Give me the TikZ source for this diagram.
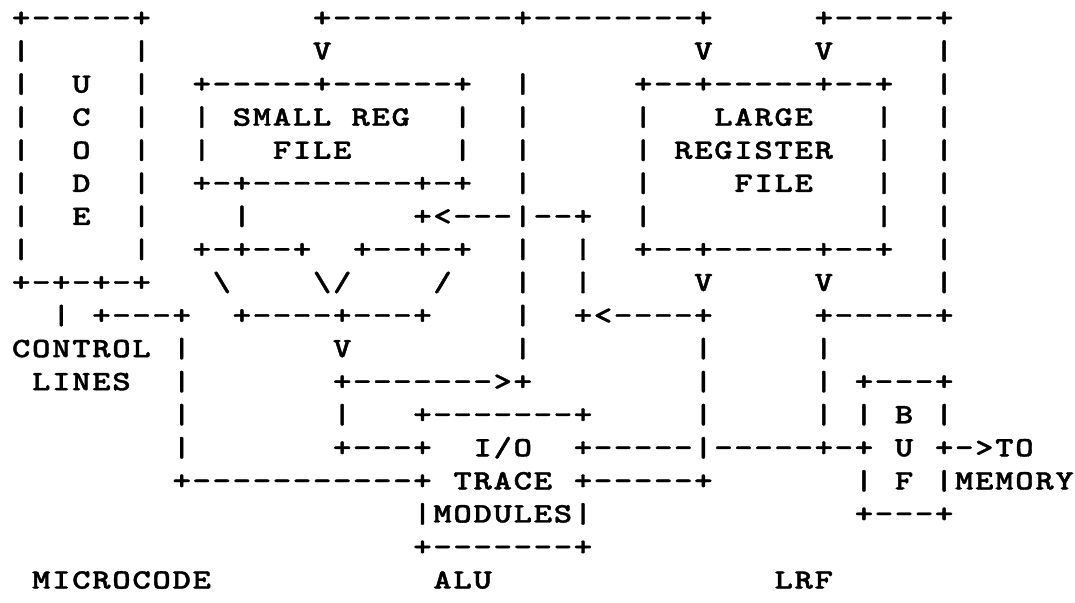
\documentclass[tikz,border=0pt]{standalone}
\usepackage{fontspec}
\setmonofont{lmmonolt10-bold.otf}[LetterSpace=4.83, FakeBold=1.2]
\usetikzlibrary{positioning}
\newcommand{\wide}[1]{\scalebox{1.25}[1]{#1}}

\begin{document}
\begin{tikzpicture}[
    x=10.0325pt, y=-16.53pt,
    ascii/.style={font=\ttfamily\fontsize{14}{16}\selectfont,
                  inner sep=0pt, anchor=west, text height=8.55pt, text depth=0pt}
]
    \useasboundingbox (-1.078,0.4555) rectangle (52.498,18.695);

    % top feed lines and the ucode box
    \foreach \c/\t [count=\i] in {0/{+-----+}, 15/{+---------+--------+}, 40/{+-----+}}
        \node[ascii] (r1-\i) at (\c-0.5,1) {\wide{\t}};
    \foreach \c/\t [count=\i] in {0/{|}, 6/{|}, 15/{V}, 34/{V}, 40/{V}, 46/{|}}
        \node[ascii] (r2-\i) at (\c-0.5,2) {\wide{\t}};
    \foreach \c/\t [count=\i] in {0/{|}, 3/{U}, 6/{|}, 9/{+-----+------+}, 25/{|},
                                  31/{+--+-----+--+}, 46/{|}}
        \node[ascii] (r3-\i) at (\c-0.5,3) {\wide{\t}};
    \foreach \c/\t [count=\i] in {0/{|}, 3/{C}, 6/{|}, 9/{|}, 11/{SMALL REG}, 22/{|},
                                  25/{|}, 31/{|}, 35/{LARGE}, 43/{|}, 46/{|}}
        \node[ascii] (r4-\i) at (\c-0.5,4) {\wide{\t}};
    \foreach \c/\t [count=\i] in {0/{|}, 3/{O}, 6/{|}, 9/{|}, 13/{FILE}, 22/{|},
                                  25/{|}, 31/{|}, 33/{REGISTER}, 43/{|}, 46/{|}}
        \node[ascii] (r5-\i) at (\c-0.5,5) {\wide{\t}};
    \foreach \c/\t [count=\i] in {0/{|}, 3/{D}, 6/{|}, 9/{+-+--------+-+}, 25/{|},
                                  31/{|}, 36/{FILE}, 43/{|}, 46/{|}}
        \node[ascii] (r6-\i) at (\c-0.5,6) {\wide{\t}};
    \foreach \c/\t [count=\i] in {0/{|}, 3/{E}, 6/{|}, 11/{|}, 20/{+<---|--+},
                                  31/{|}, 43/{|}, 46/{|}}
        \node[ascii] (r7-\i) at (\c-0.5,7) {\wide{\t}};
    \foreach \c/\t [count=\i] in {0/{|}, 6/{|}, 9/{+-+--+}, 17/{+--+-+}, 25/{|},
                                  28/{|}, 31/{+--+-----+--+}, 46/{|}}
        \node[ascii] (r8-\i) at (\c-0.5,8) {\wide{\t}};

    % mux row, written out (slashes)
    \node[ascii] (r9-1) at (-0.5,9) {\wide{+-+-+-+}};
    \node[ascii] (r9-2) at (9.5,9) {\wide{\textbackslash}};
    \node[ascii] (r9-3) at (14.5,9) {\wide{\textbackslash/}};
    \node[ascii] (r9-4) at (20.5,9) {\wide{/}};
    \foreach \c/\t [count=\i from 5] in {25/{|}, 28/{|}, 34/{V}, 40/{V}, 46/{|}}
        \node[ascii] (r9-\i) at (\c-0.5,9) {\wide{\t}};

    \foreach \c/\t [count=\i] in {2/{|}, 4/{+---+}, 11/{+----+---+}, 25/{|},
                                  28/{+<----+}, 40/{+-----+}}
        \node[ascii] (r10-\i) at (\c-0.5,10) {\wide{\t}};
    \foreach \c/\t [count=\i] in {0/{CONTROL}, 8/{|}, 16/{V}, 25/{|}, 34/{|}, 40/{|}}
        \node[ascii] (r11-\i) at (\c-0.5,11) {\wide{\t}};
    \foreach \c/\t [count=\i] in {1/{LINES}, 8/{|}, 16/{+------->+}, 34/{|}, 40/{|},
                                  42/{+---+}}
        \node[ascii] (r12-\i) at (\c-0.5,12) {\wide{\t}};
    \foreach \c/\t [count=\i] in {8/{|}, 16/{|}, 20/{+-------+}, 34/{|}, 40/{|},
                                  42/{|}, 44/{B}, 46/{|}}
        \node[ascii] (r13-\i) at (\c-0.5,13) {\wide{\t}};

    % trace modules row
    \node[ascii] (r14-1) at (7.5,14) {\wide{|}};
    \node[ascii] (r14-2) at (15.5,14) {\wide{+---+}};
    \node[ascii] (r14-3) at (22.5,14) {\wide{I/O}};
    \node[ascii] (r14-4) at (27.5,14) {\wide{+-----|-----+-+}};
    \node[ascii] (r14-5) at (43.5,14) {\wide{U}};
    \node[ascii] (r14-6) at (45.5,14) {\wide{+->TO}};

    \foreach \c/\t [count=\i] in {8/{+-----------+}, 22/{TRACE}, 28/{+-----+},
                                  42/{|}, 44/{F}, 46/{|MEMORY}}
        \node[ascii] (r15-\i) at (\c-0.5,15) {\wide{\t}};
    \foreach \c/\t [count=\i] in {20/{|MODULES|}, 42/{+---+}}
        \node[ascii] (r16-\i) at (\c-0.5,16) {\wide{\t}};
    \node[ascii] (r17-1) at (19.5,17) {\wide{+-------+}};

    % captions
    \foreach \c/\t [count=\i] in {1/{MICROCODE}, 21/{ALU}, 38/{LRF}}
        \node[ascii] (r18-\i) at (\c-0.5,18) {\wide{\t}};
\end{tikzpicture}
\end{document}
